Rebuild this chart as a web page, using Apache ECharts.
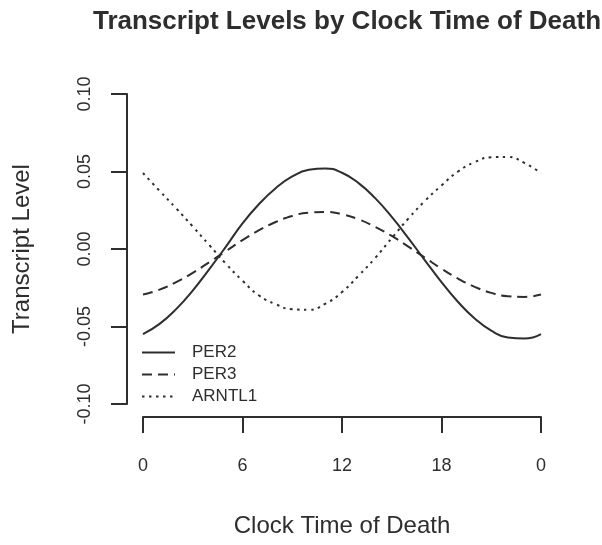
<!DOCTYPE html>
<html>
<head>
<meta charset="utf-8">
<script src="https://cdn.jsdelivr.net/npm/echarts@6/dist/echarts.min.js"></script>
<style>
  html, body { margin: 0; padding: 0; background: #fff; }
  #chart { width: 602px; height: 545px; }
</style>
</head>
<body>
<div id="chart"></div>
<script>
// clock hour of death, 0..24 (24 is shown as "0" again)
const hours = [0, 1, 2, 3, 4, 5, 6, 7, 8, 9, 10, 11, 12, 13, 14, 15, 16, 17, 18, 19, 20, 21, 22, 23, 24];
const xTickLabels = ["0", "6", "12", "18", "0"];
const yTickLabels = ["-0.10", "-0.05", "0.00", "0.05", "0.10"];

const per2 = [-0.0549, -0.0483, -0.0388, -0.0268, -0.0130, 0.0015, 0.0165, 0.0290, 0.0392, 0.0468, 0.0511, 0.0520, 0.0492,
  0.0425, 0.0328, 0.0207, 0.0070, -0.0073, -0.0214, -0.0342, -0.0448, -0.0527, -0.0571, -0.0578, -0.0549];
const per3 = [-0.0294, -0.0262, -0.0214, -0.0154, -0.0085, -0.0014, 0.0057, 0.0121, 0.0174, 0.0213, 0.0235, 0.0239, 0.0224,
  0.0192, 0.0143, 0.0084, 0.0015, -0.0056, -0.0127, -0.0191, -0.0244, -0.0283, -0.0305, -0.0309, -0.0294];
const arntl1 = [0.0490, 0.0375, 0.0262, 0.0145, 0.0025, -0.0095, -0.0205, -0.0300, -0.0356, -0.0389, -0.0392, -0.0353, -0.0278,
  -0.0172, -0.0058, 0.0070, 0.0196, 0.0310, 0.0410, 0.0500, 0.0560, 0.0592, 0.0594, 0.0555, 0.0490];

const ink = "#2e2e2e";
const font = "'Liberation Sans', Arial, sans-serif";

function pairs(values) {
  return hours.map((h, i) => [h, values[i]]);
}

function lineSeries(name, values, type) {
  return {
    name: name,
    type: "line",
    data: pairs(values),
    smooth: true,
    symbol: "none",
    lineStyle: { color: ink, width: 2, type: type, cap: "butt" },
    itemStyle: { color: ink },
  };
}

const chart = echarts.init(document.getElementById("chart"));
chart.setOption({
  animation: false,
  backgroundColor: "#fff",
  title: {
    text: "Transcript Levels by Clock Time of Death",
    left: 342,
    textAlign: "center",
    top: 4,
    textStyle: { fontFamily: font, fontSize: 26, fontWeight: "bold", color: ink },
  },
  grid: { left: 143, right: 61, top: 94, bottom: 141 },
  legend: {
    orient: "vertical",
    left: 141,
    top: 344,
    padding: 0,
    itemWidth: 33,
    itemHeight: 10,
    itemGap: 5,
    itemStyle: { opacity: 0 },
    textStyle: { fontFamily: font, fontSize: 17, color: ink, padding: [0, 0, 0, 12] },
    data: ["PER2", "PER3", "ARNTL1"],
  },
  xAxis: {
    type: "value",
    min: 0,
    max: 24,
    interval: 6,
    offset: 13,
    name: "Clock Time of Death",
    nameLocation: "middle",
    nameGap: 97,
    nameTextStyle: { fontFamily: font, fontSize: 24, color: ink },
    axisLine: { onZero: false, lineStyle: { color: ink, width: 2 } },
    axisTick: { inside: false, length: 16, lineStyle: { color: ink, width: 2 } },
    axisLabel: {
      margin: 40,
      fontFamily: font,
      fontSize: 18,
      color: ink,
      formatter: (v) => xTickLabels[Math.round(v / 6)],
    },
    splitLine: { show: false },
  },
  yAxis: {
    type: "value",
    min: -0.1,
    max: 0.1,
    interval: 0.05,
    offset: 16,
    name: "Transcript Level",
    nameLocation: "middle",
    nameGap: 93,
    nameTextStyle: { fontFamily: font, fontSize: 24, color: ink },
    axisLine: { show: true, onZero: false, lineStyle: { color: ink, width: 2 } },
    axisTick: { show: true, inside: false, length: 16, lineStyle: { color: ink, width: 2 } },
    axisLabel: {
      rotate: 90,
      margin: 33,
      fontFamily: font,
      fontSize: 18,
      color: ink,
      formatter: (v) => yTickLabels[Math.round((v + 0.1) / 0.05)],
    },
    splitLine: { show: false },
  },
  series: [
    lineSeries("PER2", per2, "solid"),
    lineSeries("PER3", per3, [10, 6]),
    lineSeries("ARNTL1", arntl1, [2.5, 4.5]),
  ],
});
</script>
</body>
</html>
